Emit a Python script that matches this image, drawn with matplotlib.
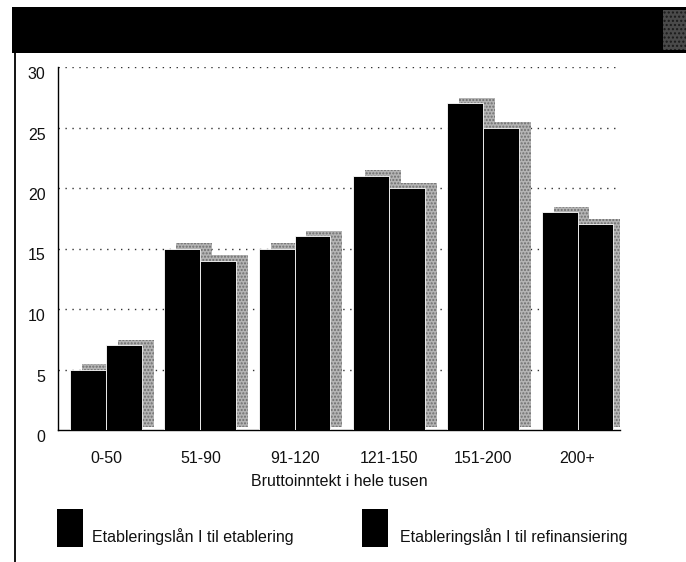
import matplotlib
matplotlib.use("Agg")
import matplotlib.pyplot as plt
from matplotlib.patches import Rectangle
from matplotlib.transforms import ScaledTranslation
import numpy as np

categories = ["0-50", "51-90", "91-120", "121-150", "151-200", "200+"]
etablering = [5, 15, 15, 21, 27, 18]
refinansiering = [7, 14, 16, 20, 25, 17]
series_labels = ["Etableringslån I til etablering", "Etableringslån I til refinansiering"]
xlabel = "Bruttoinntekt i hele tusen"
yticks = [0, 5, 10, 15, 20, 25, 30]

plt.rcParams['font.family'] = ['Liberation Sans Narrow', 'Liberation Sans', 'DejaVu Sans']

W, H = 686, 562
fig = plt.figure(figsize=(W / 100, H / 100), dpi=100)

def fx(px):
    return px / W

def fy(py):
    return 1 - py / H

# header band
fig.patches.append(Rectangle((fx(12), fy(53)), fx(686 - 12), (46) / H,
                             transform=fig.transFigure, facecolor='black',
                             edgecolor='none', zorder=0))
fig.patches.append(Rectangle((fx(663), fy(50)), fx(23), 40 / H,
                             transform=fig.transFigure, facecolor='#4a4a4a',
                             edgecolor='#1a1a1a', hatch='....', lw=0, zorder=1))
# left border line
fig.add_artist(plt.Line2D([fx(15), fx(15)], [0, fy(53)], transform=fig.transFigure,
                          color='black', lw=1.3))

ax = fig.add_axes([fx(58), fy(430), fx(620 - 58), (430 - 67) / H])
x = np.arange(len(categories))
bw = 0.38
dx = 0.125
dy = 0.45

# shadows
for xs, vals in [(x - bw / 2, etablering), (x + bw / 2, refinansiering)]:
    ax.bar(xs + dx, np.array(vals) + dy - 0.25, bw, bottom=0.25, color='#b4b4b4',
           edgecolor='#6e6e6e', hatch='.....', linewidth=0, zorder=2)

ax.bar(x - bw / 2, etablering, bw, color='black', edgecolor='white', linewidth=0.6, zorder=3)
ax.bar(x + bw / 2, refinansiering, bw, color='black', edgecolor='white', linewidth=0.6, zorder=4)

ax.set_xlim(-0.509, 5.45)
ax.set_ylim(0, 30)
ax.set_yticks(yticks)
ax.set_yticklabels([str(t) for t in yticks])
ax.set_xticks(x)
ax.set_xticklabels(categories)
for gy in yticks[1:]:
    ax.axhline(gy, color='#333333', lw=1.0, ls=(0, (1, 4)), zorder=1)

for s in ['top', 'right']:
    ax.spines[s].set_visible(False)
ax.spines['left'].set_linewidth(1.0)
ax.spines['bottom'].set_linewidth(1.0)
ax.tick_params(axis='y', length=0, pad=9, labelsize=11.5, colors='#111111')
ax.tick_params(axis='x', length=0, pad=15, labelsize=11.5, colors='#111111')
off = ScaledTranslation(0, -6 / 100, fig.dpi_scale_trans)
for lab in ax.get_yticklabels():
    lab.set_transform(lab.get_transform() + off)

fig.text(fx(339), fy(482), xlabel, ha='center', va='center', fontsize=11.5, color='#111111')

# legend
for (px0, tx0), lab in zip([(57, 92), (362, 400)], series_labels):
    fig.patches.append(Rectangle((fx(px0), fy(547)), fx(26), 38 / H,
                                 transform=fig.transFigure, facecolor='black',
                                 edgecolor='none'))
    fig.text(fx(tx0), fy(537), lab, ha='left', va='center', fontsize=11.5, color='#111111')

fig.savefig("out.png", dpi=100)
